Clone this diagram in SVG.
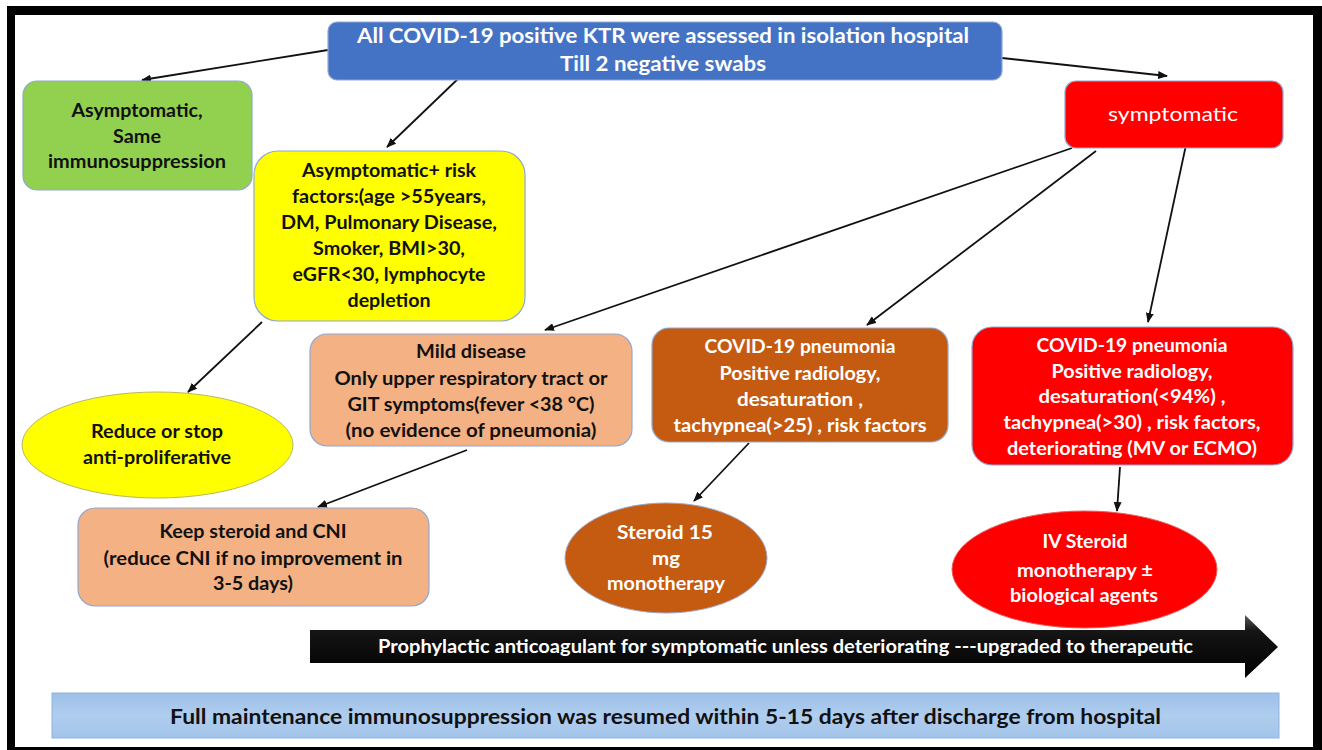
<svg xmlns="http://www.w3.org/2000/svg" width="1322" height="750" viewBox="0 0 1322 750">
<style>
.t{font-family:Lato,"Liberation Sans",Arial,sans-serif;font-weight:bold;text-anchor:middle;font-size:18.5px;fill:#111}
.w{fill:#fff}
.box{stroke:#8FA8D4;stroke-width:1.2}
.conn line{stroke:#111;stroke-width:1.8;fill:none}
</style>
<defs>
<marker id="ah" markerWidth="10" markerHeight="8" refX="9" refY="4" orient="auto" markerUnits="userSpaceOnUse">
<path d="M0,0 L10,4 L0,8 z" fill="#111"/>
</marker>
<linearGradient id="barg" x1="0" y1="0" x2="0" y2="1">
<stop offset="0" stop-color="#5a5a5a"/>
<stop offset="0.25" stop-color="#151515"/>
<stop offset="1" stop-color="#000"/>
</linearGradient>
<linearGradient id="bandg" x1="0" y1="0" x2="0" y2="1">
<stop offset="0" stop-color="#9DC0E8"/>
<stop offset="0.5" stop-color="#AFCDEE"/>
<stop offset="1" stop-color="#A3C4EA"/>
</linearGradient>
</defs>
<rect x="0" y="0" width="1322" height="750" fill="#fff"/>
<rect x="7" y="6" width="1315" height="744" fill="#000"/>
<rect x="15" y="15" width="1298" height="732" fill="#fff"/>

<g class="conn">
<line x1="328" y1="50" x2="142" y2="80" marker-end="url(#ah)"/>
<line x1="462" y1="75" x2="387" y2="147" marker-end="url(#ah)"/>
<line x1="1002" y1="58" x2="1167" y2="76" marker-end="url(#ah)"/>
<line x1="1072" y1="148" x2="545" y2="330" marker-end="url(#ah)"/>
<line x1="1096" y1="151" x2="867" y2="325" marker-end="url(#ah)"/>
<line x1="1186" y1="145" x2="1148" y2="322" marker-end="url(#ah)"/>
<line x1="262" y1="322" x2="188" y2="392" marker-end="url(#ah)"/>
<line x1="467" y1="450" x2="318" y2="507" marker-end="url(#ah)"/>
<line x1="749" y1="443" x2="694" y2="501" marker-end="url(#ah)"/>
<line x1="1120" y1="467" x2="1117" y2="511" marker-end="url(#ah)"/>
</g>

<g id="start">
<rect class="box" x="328" y="22" width="674" height="58" rx="9" fill="#4472C4" stroke="#6A92D6"/>
<text class="t w" x="663" y="43" font-size="21" style="font-size:21px" textLength="612" lengthAdjust="spacingAndGlyphs">All COVID-19 positive KTR were assessed in isolation hospital</text>
<text class="t w" x="663" y="71" style="font-size:21px" textLength="206" lengthAdjust="spacingAndGlyphs">Till 2 negative swabs</text>
</g>

<g id="asymptomatic">
<rect class="box" x="23" y="81" width="229" height="109" rx="14" fill="#92D050"/>
<text class="t" x="137" y="117" textLength="131" lengthAdjust="spacingAndGlyphs">Asymptomatic,</text>
<text class="t" x="137" y="143" textLength="48" lengthAdjust="spacingAndGlyphs">Same</text>
<text class="t" x="137" y="168" textLength="178" lengthAdjust="spacingAndGlyphs">immunosuppression</text>
</g>

<g id="asymptomatic-risk">
<rect class="box" x="254" y="151" width="271" height="170" rx="24" fill="#FFFF00"/>
<text class="t" x="389" y="177" textLength="174" lengthAdjust="spacingAndGlyphs">Asymptomatic+ risk</text>
<text class="t" x="389" y="203" textLength="194" lengthAdjust="spacingAndGlyphs">factors:(age &gt;55years,</text>
<text class="t" x="389" y="229" textLength="216" lengthAdjust="spacingAndGlyphs">DM, Pulmonary Disease,</text>
<text class="t" x="389" y="255" textLength="152" lengthAdjust="spacingAndGlyphs">Smoker, BMI&gt;30,</text>
<text class="t" x="389" y="281" textLength="193" lengthAdjust="spacingAndGlyphs">eGFR&lt;30, lymphocyte</text>
<text class="t" x="389" y="307" textLength="83" lengthAdjust="spacingAndGlyphs">depletion</text>
</g>

<g id="symptomatic">
<rect class="box" x="1065" y="81" width="218" height="67" rx="11" fill="#FF0000" stroke="#E86060"/>
<text class="t w" x="1173" y="121" style="font-weight:normal;font-size:20px" textLength="130" lengthAdjust="spacingAndGlyphs">symptomatic</text>
</g>

<g id="mild">
<rect class="box" x="310" y="334" width="322" height="112" rx="17" fill="#F4B183"/>
<text class="t" x="471" y="358" textLength="110" lengthAdjust="spacingAndGlyphs">Mild disease</text>
<text class="t" x="471" y="385" textLength="273" lengthAdjust="spacingAndGlyphs">Only upper respiratory tract or</text>
<text class="t" x="471" y="411" textLength="247" lengthAdjust="spacingAndGlyphs">GIT symptoms(fever &lt;38 °C)</text>
<text class="t" x="471" y="437" textLength="251" lengthAdjust="spacingAndGlyphs">(no evidence of pneumonia)</text>
</g>

<g id="pneumonia-moderate">
<rect class="box" x="652" y="328" width="296" height="114" rx="17" fill="#C55A11"/>
<text class="t w" x="800" y="353" textLength="191" lengthAdjust="spacingAndGlyphs">COVID-19 pneumonia</text>
<text class="t w" x="800" y="380" textLength="161" lengthAdjust="spacingAndGlyphs">Positive radiology,</text>
<text class="t w" x="800" y="406" textLength="126" lengthAdjust="spacingAndGlyphs">desaturation ,</text>
<text class="t w" x="800" y="432" textLength="253" lengthAdjust="spacingAndGlyphs">tachypnea(&gt;25) , risk factors</text>
</g>

<g id="pneumonia-severe">
<rect class="box" x="972" y="327" width="321" height="138" rx="20" fill="#FF0000" stroke="#E86060"/>
<text class="t w" x="1132" y="352" textLength="191" lengthAdjust="spacingAndGlyphs">COVID-19 pneumonia</text>
<text class="t w" x="1132" y="378" textLength="161" lengthAdjust="spacingAndGlyphs">Positive radiology,</text>
<text class="t w" x="1132" y="403" textLength="187" lengthAdjust="spacingAndGlyphs">desaturation(&lt;94%) ,</text>
<text class="t w" x="1132" y="429" textLength="257" lengthAdjust="spacingAndGlyphs">tachypnea(&gt;30) , risk factors,</text>
<text class="t w" x="1132" y="455" textLength="250" lengthAdjust="spacingAndGlyphs">deteriorating (MV or ECMO)</text>
</g>

<g id="reduce">
<ellipse cx="157.5" cy="445" rx="135.5" ry="53" fill="#FFFF00" stroke="#B8B860" stroke-width="1"/>
<text class="t" x="157" y="438" textLength="132" lengthAdjust="spacingAndGlyphs">Reduce or stop</text>
<text class="t" x="157" y="464" textLength="148" lengthAdjust="spacingAndGlyphs">anti-proliferative</text>
</g>

<g id="keep">
<rect class="box" x="78" y="508" width="351" height="98" rx="17" fill="#F4B183"/>
<text class="t" x="253" y="538" textLength="187" lengthAdjust="spacingAndGlyphs">Keep steroid and CNI</text>
<text class="t" x="253" y="565" textLength="299" lengthAdjust="spacingAndGlyphs">(reduce CNI if no improvement in</text>
<text class="t" x="253" y="590" textLength="80" lengthAdjust="spacingAndGlyphs">3-5 days)</text>
</g>

<g id="steroid15">
<ellipse cx="666" cy="558" rx="101" ry="55" fill="#C55A11" stroke="#9FA8C8" stroke-width="1"/>
<text class="t w" x="665" y="539" textLength="96" lengthAdjust="spacingAndGlyphs">Steroid 15</text>
<text class="t w" x="666" y="565" textLength="28" lengthAdjust="spacingAndGlyphs">mg</text>
<text class="t w" x="666" y="590" textLength="118" lengthAdjust="spacingAndGlyphs">monotherapy</text>
</g>

<g id="ivsteroid">
<ellipse cx="1084.5" cy="569.5" rx="132.5" ry="58.5" fill="#FF0000" stroke="#E86060" stroke-width="1"/>
<text class="t w" x="1085" y="548" textLength="85" lengthAdjust="spacingAndGlyphs">IV Steroid</text>
<text class="t w" x="1085" y="577" textLength="136" lengthAdjust="spacingAndGlyphs">monotherapy ±</text>
<text class="t w" x="1084" y="602" textLength="148" lengthAdjust="spacingAndGlyphs">biological agents</text>
</g>

<g id="anticoagulant">
<polygon points="310,630 1245,630 1245,615 1278,647 1245,678 1245,663 310,663" fill="url(#barg)"/>
<text class="t w" x="785.5" y="653" style="font-size:18px" textLength="815" lengthAdjust="spacingAndGlyphs">Prophylactic anticoagulant for symptomatic unless deteriorating ---upgraded to therapeutic</text>
</g>

<g id="maintenance">
<rect x="52" y="693" width="1227" height="45" fill="url(#bandg)" stroke="#8EB4E3" stroke-width="1"/>
<text class="t" x="665.5" y="724" style="font-size:20px" textLength="991" lengthAdjust="spacingAndGlyphs">Full maintenance immunosuppression was resumed within 5-15 days after discharge from hospital</text>
</g>
</svg>
